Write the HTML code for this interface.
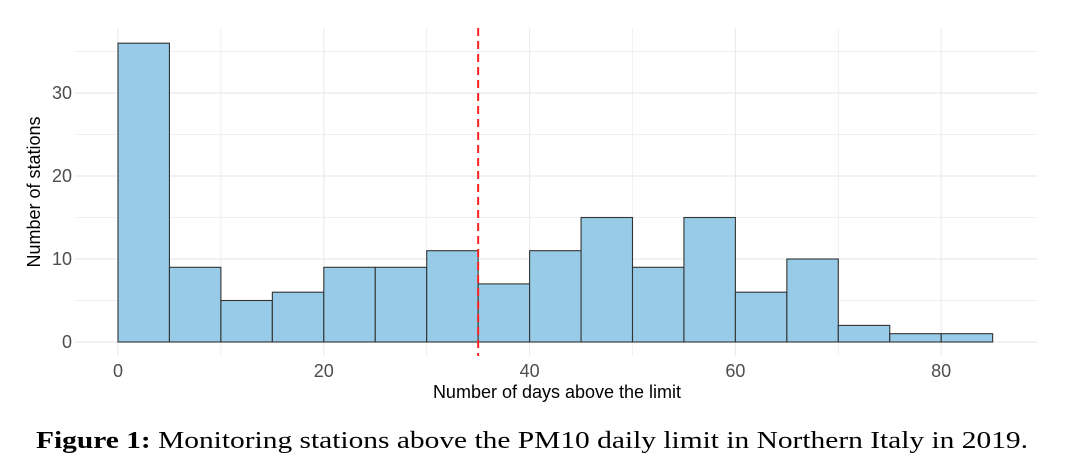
<!DOCTYPE html>
<html><head><meta charset="utf-8"><style>
body{margin:0;background:#fff;}
svg{display:block;font-family:"Liberation Sans",Arial,sans-serif;}
</style></head><body>
<svg id="chart" width="1080" height="475">
<g id="grid"></g>
<g id="bars"></g>
<g id="axes"></g>
<text x="557" y="398" text-anchor="middle" font-size="18" fill="#000">Number of days above the limit</text>
<text transform="translate(40,192) rotate(-90)" text-anchor="middle" font-size="18" fill="#000">Number of stations</text>
<text x="36" y="448" font-size="24" font-family="Liberation Serif,serif" fill="#000" textLength="992" lengthAdjust="spacingAndGlyphs"><tspan font-weight="bold">Figure 1:</tspan> Monitoring stations above the PM10 daily limit in Northern Italy in 2019.</text>
</svg>
<script>
const binStarts=[0,5,10,15,20,25,30,35,40,45,50,55,60,65,70,75,80];
const counts=[36,9,5,6,9,9,11,7,11,15,9,15,6,10,2,1,1];
const binWidth=5;
const xTicks=[0,20,40,60,80];
const yTicks=[0,10,20,30];
const limitDays=35;
const X=v=>118+v*10.29;
const Y=v=>342-v*8.3;
const ns="http://www.w3.org/2000/svg";
function mk(tag,attrs,parent){const e=document.createElementNS(ns,tag);for(const k in attrs)e.setAttribute(k,attrs[k]);parent.appendChild(e);return e;}
const grid=document.getElementById('grid'),bars=document.getElementById('bars'),axes=document.getElementById('axes');
for(let v=0;v<=85;v+=10){const l=mk('line',{x1:X(v),x2:X(v),y1:28,y2:356,stroke:'#ebebeb','stroke-width':v%20===0?1.2:0.7},grid);

}
for(let v=0;v<=35;v+=5){const l=mk('line',{x1:75,x2:1037,y1:Y(v),y2:Y(v),stroke:'#ebebeb','stroke-width':v%10===0?1.2:0.7},grid);

}
binStarts.forEach((s,i)=>{const r=mk('rect',{x:X(s),y:Y(counts[i]),width:X(s+binWidth)-X(s),height:Y(0)-Y(counts[i]),fill:'#97cbe7',stroke:'#333','stroke-width':1.1},bars);

});
const dl=mk('line',{x1:X(limitDays),x2:X(limitDays),y1:28,y2:356,stroke:'#ff2020','stroke-width':2,'stroke-dasharray':'8,5'},axes);


xTicks.forEach(v=>{const t=mk('text',{x:X(v),y:377,'text-anchor':'middle','font-size':18,fill:'#4d4d4d'},axes);t.textContent=v;

});
yTicks.forEach(v=>{const t=mk('text',{x:72,y:Y(v)+6,'text-anchor':'end','font-size':18,fill:'#4d4d4d'},axes);t.textContent=v;

});
</script>
</body></html>
